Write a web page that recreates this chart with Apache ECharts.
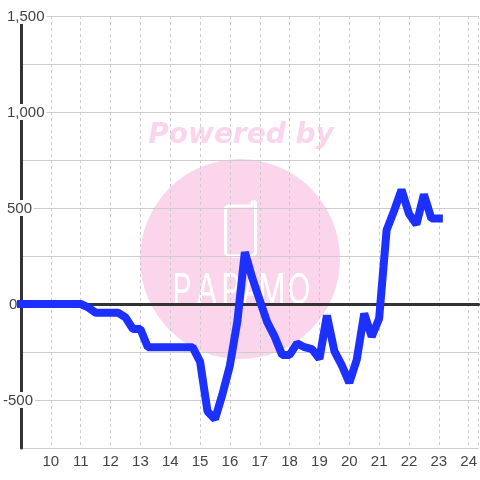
<!DOCTYPE html>
<html><head><meta charset="utf-8">
<style>html,body{margin:0;padding:0;background:#fff}#c{width:480px;height:480px}</style>
<script src="https://cdn.jsdelivr.net/npm/echarts@6/dist/echarts.min.js"></script>
</head><body><div id="c"></div>
<script>
const hours = [9,9.25,9.5,9.75,10,10.25,10.5,10.75,11,11.25,11.5,11.75,12,12.25,12.5,12.75,13,13.25,13.5,13.75,14,14.25,14.5,14.75,15,15.25,15.5,15.75,16,16.25,16.5,16.75,17,17.25,17.5,17.75,18,18.25,18.5,18.75,19,19.25,19.5,19.75,20,20.25,20.5,20.75,21,21.25,21.5,21.75,22,22.25,22.5,22.75,23];
const values = [0,0,0,0,0,0,0,0,0,-18,-45,-45,-45,-45,-70,-130,-130,-225,-225,-225,-225,-225,-225,-225,-300,-560,-600,-470,-320,-90,270,135,20,-95,-170,-265,-265,-205,-225,-235,-285,-60,-245,-320,-410,-290,-50,-170,-75,385,485,595,470,415,570,445,445];
const xTicks = [10,11,12,13,14,15,16,17,18,19,20,21,22,23,24];
const yTicks = [-500,0,500,1000,1500];
const yTickLabels = {'-500':'{n|-500}','0':'{z|0}','500':'{a|500}','1000':'{a|1,000}','1500':'{a|1,500}'};
const logoLetters = ['P','A','P','A','M','O'];
const logoX = [182,207,231,252,272,299];

const textColor = '#444';
const font = '"Liberation Sans", Arial, sans-serif';
const pink = '#fbd5ec';
const chart = echarts.init(document.getElementById('c'), null, {renderer:'canvas'});
const letterEls = logoLetters.map((t,i)=>({
  type:'text', z:-9, x:logoX[i], y:291, silent:true, scaleX:0.72,
  style:{text:t, font:'400 42px Inter, Lato, '+font, fill:'#fff', align:'center', verticalAlign:'middle'}
}));
chart.setOption({
  animation:false,
  backgroundColor:'#fff',
  grid:{left:20,right:0,top:16,bottom:32,containLabel:false},
  graphic:{elements:[
    {type:'circle',z:-10,silent:true,shape:{cx:240,cy:259,r:100},style:{fill:pink}},
    {type:'text',z:-10,silent:true,x:241,y:136,style:{text:'Powered by',font:'italic bold 28px "DejaVu Sans", '+font,fill:pink,align:'center',verticalAlign:'middle'}},
    {type:'polyline',z:-9,silent:true,shape:{points:[[240,206],[228,206],[225.5,208],[225.5,253],[228,256],[253,256],[255.5,253],[255.5,202],[252,202],[252,206],[240,206]]},style:{fill:'none',stroke:'#fff',lineWidth:3,lineJoin:'round'}},
    ...letterEls
  ]},
  xAxis:[
    {type:'value',min:9,max:24.3333,interval:1,position:'bottom',
     axisLine:{show:false,onZero:false},axisTick:{show:false},
     axisLabel:{customValues:xTicks,color:textColor,fontSize:15,fontFamily:font,margin:6,verticalAlign:'top',formatter:v=>String(v)},
     splitLine:{show:true,lineStyle:{color:'#ccc',width:1,type:[3,3]}}},
    {type:'value',min:9,max:24.3333,interval:1,position:'bottom',
     axisLine:{show:true,onZero:true,onZeroAxisIndex:0,lineStyle:{color:'#333',width:3}},
     axisTick:{show:false},axisLabel:{show:false},splitLine:{show:false}}
  ],
  yAxis:{type:'value',min:-750,max:1500,interval:250,position:'left',
    axisLine:{show:true,onZero:false,lineStyle:{color:'#333',width:3}},axisTick:{show:false},
    axisLabel:{customValues:yTicks,align:'left',margin:18,verticalAlign:'middle',backgroundColor:'#fff',padding:[0,2,0,0],
      formatter:v=>yTickLabels[String(v)],
      rich:{
        a:{color:textColor,fontSize:15,fontFamily:font,lineHeight:16,padding:[2,0,0,4]},
        z:{color:textColor,fontSize:15,fontFamily:font,lineHeight:16,padding:[2,0,0,6]},
        n:{color:textColor,fontSize:15,fontFamily:font,lineHeight:16,padding:[2,0,0,0]}
      }},
    splitLine:{show:true,lineStyle:{color:'#ccc',width:1}}},
  series:[{type:'line',xAxisIndex:0,yAxisIndex:0,clip:false,showSymbol:false,symbol:'none',z:5,
    data:hours.map((h,i)=>[h,values[i]]),
    lineStyle:{color:'#1c30ff',width:8,cap:'square',join:'bevel'}}]
});
</script></body></html>
